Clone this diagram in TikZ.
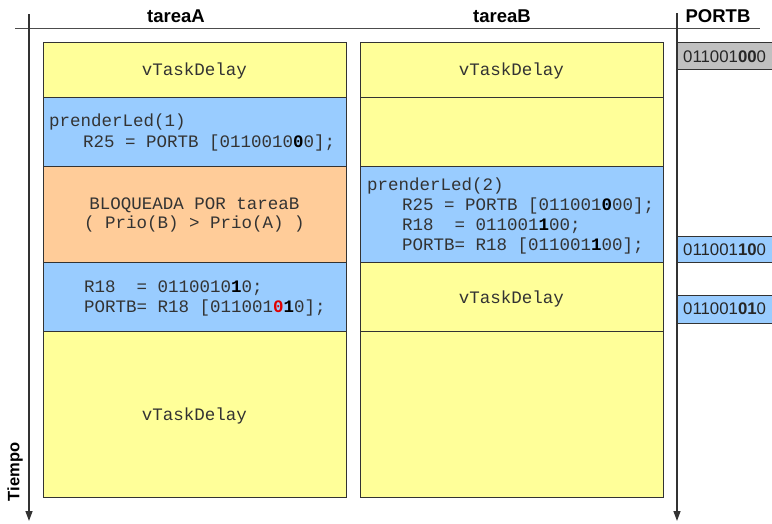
\documentclass[tikz,border=0pt]{standalone}
\usepackage{fontspec}
\setmainfont{Liberation Sans}
\newfontfamily\mono{Liberation Mono}
\usetikzlibrary{arrows.meta}
\definecolor{yel}{HTML}{FFFF99}
\definecolor{blu}{HTML}{99CCFF}
\definecolor{ora}{HTML}{FFCC99}
\definecolor{gry}{HTML}{C0C0C0}
\definecolor{edgec}{HTML}{333333}
\definecolor{txt}{HTML}{333333}
\definecolor{hot}{HTML}{E00000}
% bold (black) digit inside a code line
\newcommand{\bd}[1]{{\color{black}\bfseries #1}}
\newcommand{\rd}[1]{{\color{hot}\bfseries #1}}
\begin{document}
\begin{tikzpicture}[x=1pt,y=-1pt,
  slot/.style={draw=edgec,line width=0.8pt,inner sep=0pt,anchor=north west,minimum width=303pt},
  portbox/.style={draw=edgec,line width=0.8pt,inner sep=0pt,anchor=north west,minimum width=100pt},
  code/.style={font=\mono\fontsize{17.5}{20}\selectfont,text=txt,inner sep=0pt},
  codeL/.style={code,anchor=base west},
  codeC/.style={code,anchor=base},
  head/.style={font=\bfseries\fontsize{18.5}{22}\selectfont,inner sep=0pt,anchor=base},
  val/.style={font=\fontsize{16.8}{20}\selectfont,text=black!85,inner sep=0pt,anchor=base west},
  axis/.style={draw=black!80,line width=1.4pt,-{Triangle[length=10pt,width=7pt]}}
]
\useasboundingbox (0,0) rectangle (772,523);

% column headings
\node[head] (hA) at (176,22) {tareaA};
\node[head] (hB) at (502,22) {tareaB};
\node[head] (hP) at (718,22) {PORTB};
\node[font=\bfseries\fontsize{16.5}{20}\selectfont,rotate=90,inner sep=0pt] (tiempo) at (15,472) {Tiempo};

% header rule and time axes
\coordinate (rl) at (15,28);
\coordinate (rr) at (760,28);
\draw[draw=black!70,line width=1pt] (rl) -- (rr);
\coordinate (ltop) at (29,14);
\coordinate (lbot) at (29,521);
\coordinate (rtop) at (677,13);
\coordinate (rbot) at (677,521);
\draw[axis] (ltop) -- (lbot);
\draw[axis] (rtop) -- (rbot);

% tareaA column
\node[slot,fill=yel,minimum height=55pt]  (a1) at (43,42)  {};
\node[slot,fill=blu,minimum height=69pt]  (a2) at (43,97)  {};
\node[slot,fill=ora,minimum height=96pt]  (a3) at (43,166) {};
\node[slot,fill=blu,minimum height=69pt]  (a4) at (43,262) {};
\node[slot,fill=yel,minimum height=166pt] (a5) at (43,331) {};

% tareaB column
\node[slot,fill=yel,minimum height=55pt]  (b1) at (360,42)  {};
\node[slot,fill=yel,minimum height=69pt]  (b2) at (360,97)  {};
\node[slot,fill=blu,minimum height=96pt]  (b3) at (360,166) {};
\node[slot,fill=yel,minimum height=69pt]  (b4) at (360,262) {};
\node[slot,fill=yel,minimum height=166pt] (b5) at (360,331) {};

% PORTB values
\node[portbox,fill=gry,minimum height=27pt] (p1) at (677,42)  {};
\node[portbox,fill=blu,minimum height=26pt] (p2) at (677,236) {};
\node[portbox,fill=blu,minimum height=28pt] (p3) at (677,295) {};
\node[val] (v1) at (683,62)  {011001\textbf{00}0};
\node[val] (v2) at (683,255) {011001\textbf{10}0};
\node[val] (v3) at (683,314) {011001\textbf{01}0};

% code in tareaA
\node[codeC] (ta1) at (194.5,75) {vTaskDelay};
\node[codeL] (ta2a) at (49,126) {prenderLed(1)};
\node[codeL] (ta2b) at (83,147) {R25 = PORTB [0110010\bd{0}0];};
\node[codeC] (ta3a) at (194.5,209) {BLOQUEADA POR tareaB};
\node[codeC] (ta3b) at (194.5,228) {( Prio(B) > Prio(A) )};
\node[codeL] (ta4a) at (84,292) {R18\ \ = 0110010\bd{1}0;};
\node[codeL] (ta4b) at (84,312) {PORTB= R18 [011001\rd{0}\bd{1}0];};
\node[codeC] (ta5) at (194.5,420) {vTaskDelay};

% code in tareaB
\node[codeC] (tb1) at (511.5,75) {vTaskDelay};
\node[codeL] (tb3a) at (367,190) {prenderLed(2)};
\node[codeL] (tb3b) at (402,210) {R25 = PORTB [011001\bd{0}00];};
\node[codeL] (tb3c) at (402,230) {R18\ \ = 011001\bd{1}00;};
\node[codeL] (tb3d) at (402,250) {PORTB= R18 [011001\bd{1}00];};
\node[codeC] (tb4) at (511.5,303) {vTaskDelay};
\end{tikzpicture}
\end{document}
